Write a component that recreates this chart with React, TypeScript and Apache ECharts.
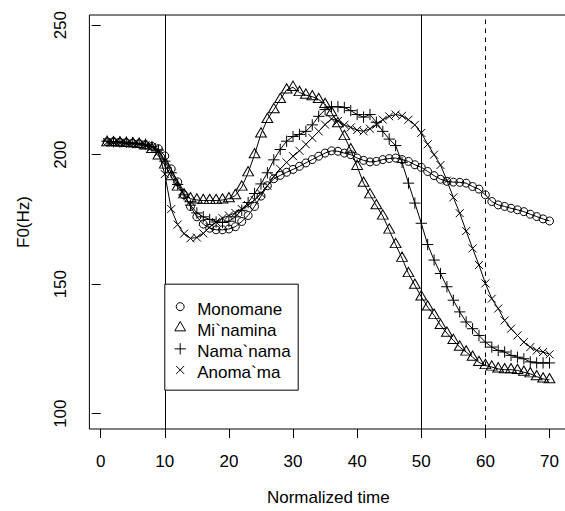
import React, { useEffect, useRef } from 'react';
import * as echarts from 'echarts';

const times = [1, 2, 3, 4, 5, 6, 7, 8, 9, 10, 11, 12, 13, 14, 15, 16, 17, 18, 19, 20, 21, 22, 23, 24, 25, 26, 27, 28, 29, 30, 31, 32, 33, 34, 35, 36, 37, 38, 39, 40, 41, 42, 43, 44, 45, 46, 47, 48, 49, 50, 51, 52, 53, 54, 55, 56, 57, 58, 59, 60, 61, 62, 63, 64, 65, 66, 67, 68, 69, 70];

const seriesNames = ['Monomane', 'Mi`namina', 'Nama`nama', 'Anoma`ma'];

const monomane = [205.0, 205.0, 204.8, 204.6, 204.4, 204.2, 203.8, 203.2, 202.3, 199.5,
  194.5, 189.5, 184.5, 180.0, 176.0, 173.2, 171.6, 171.0, 171.0, 171.3,
  172.2, 174.2, 176.5, 180.0, 184.0, 188.0, 190.7, 192.0, 193.2, 194.3,
  195.5, 196.8, 198.1, 199.4, 200.6, 201.5, 201.3, 200.6, 200.0, 198.7,
  197.8, 197.2, 197.4, 198.1, 198.5, 198.7, 198.1, 197.4, 196.1, 195.1,
  193.5, 191.9, 190.5, 189.7, 189.4, 189.3, 189.0, 187.7, 186.7, 184.5,
  181.9, 180.6, 180.0, 179.3, 178.7, 178.0, 177.0, 176.1, 175.2, 174.4];

const minamina = [204.6, 204.6, 204.5, 204.3, 204.2, 204.0, 203.4, 202.0, 199.5, 196.0,
  191.5, 187.5, 184.5, 183.0, 182.5, 182.3, 182.3, 182.3, 182.5, 183.0,
  184.2, 187.5, 193.0, 200.0, 208.0, 213.6, 217.4, 221.3, 225.0, 226.0,
  224.0, 223.0, 222.4, 221.3, 219.4, 216.2, 212.0, 207.0, 201.9, 195.5,
  189.0, 184.5, 180.3, 176.3, 170.9, 165.3, 160.0, 154.1, 149.6, 145.1,
  141.2, 138.0, 134.1, 131.1, 128.3, 125.7, 123.8, 121.8, 119.8, 118.6,
  118.0, 117.3, 117.0, 117.0, 116.7, 116.0, 115.4, 114.3, 113.4, 113.1];

const namanama = [205.2, 205.0, 204.9, 204.8, 204.6, 204.3, 204.0, 203.2, 201.8, 197.5,
  193.0, 188.5, 184.5, 180.5, 177.5, 176.0, 175.0, 174.0, 173.8, 174.3,
  176.0, 178.5, 181.5, 185.0, 188.7, 193.0, 198.0, 202.0, 205.2, 207.0,
  207.8, 209.0, 211.5, 214.8, 217.4, 218.5, 218.5, 218.2, 217.0, 215.5,
  214.5, 215.5, 212.5, 209.0, 206.0, 203.5, 197.0, 189.0, 181.3, 173.5,
  165.3, 159.3, 154.1, 149.0, 143.8, 139.3, 135.4, 132.8, 130.2, 127.6,
  125.7, 124.4, 123.8, 122.5, 121.8, 121.2, 120.0, 119.6, 119.6, 119.6];

const anomama = [204.8, 204.7, 204.6, 204.4, 204.2, 204.0, 203.6, 203.0, 201.0, 192.5,
  179.0, 173.0, 169.5, 167.7, 168.0, 169.6, 172.0, 174.0, 175.5, 176.5,
  177.5, 179.0, 180.5, 182.5, 185.0, 188.0, 191.6, 194.5, 197.0, 199.4,
  201.5, 204.0, 206.5, 209.0, 211.6, 213.8, 213.0, 211.5, 210.5, 209.5,
  209.0, 210.0, 211.6, 213.5, 214.8, 215.5, 215.0, 213.5, 211.5, 208.4,
  204.0, 200.0, 196.0, 190.0, 183.5, 177.4, 170.5, 163.8, 157.4, 150.3,
  144.4, 140.6, 136.0, 132.8, 130.2, 127.6, 125.7, 124.4, 123.8, 122.9];

const xTicks = [0, 10, 20, 30, 40, 50, 60, 70];
const yTicks = [100, 150, 200, 250];
const solidLines = [10, 50];
const dashedLines = [60];
const legendAnchor = [10, 150];

const FONT = 'Liberation Sans, Arial, Helvetica, sans-serif';

export default function App() {
  const ref = useRef<HTMLDivElement>(null);
  useEffect(() => {
    document.body.style.margin = '0';
    const chart = echarts.init(ref.current as HTMLDivElement, null, { renderer: 'svg' });
    const allValues = [monomane, minamina, namanama, anomama];
    const symbols: any[] = [
      { symbol: 'circle', symbolSize: 8, symbolOffset: [0, 0] },
      { symbol: 'triangle', symbolSize: [10.8, 9.3], symbolOffset: [0, -1.55] },
      { symbol: 'path://M0,5L10,5M5,0L5,10', symbolSize: 11.3, symbolOffset: [0, 0] },
      { symbol: 'path://M0,0L10,10M10,0L0,10', symbolSize: 8, symbolOffset: [0, 0] },
    ];
    const series: any[] = allValues.map((vals, i) => ({
      name: seriesNames[i],
      type: 'line',
      data: times.map((t, j) => [t, vals[j]]),
      symbol: symbols[i].symbol,
      symbolSize: symbols[i].symbolSize,
      symbolOffset: symbols[i].symbolOffset,
      showSymbol: true,
      showAllSymbol: true,
      silent: true,
      lineStyle: { color: '#000', width: 1 },
      itemStyle: { color: 'rgba(0,0,0,0)', borderColor: '#000', borderWidth: 1 },
      emphasis: { disabled: true },
      z: 2,
    }));
    series[0].markLine = {
      silent: true,
      symbol: 'none',
      label: { show: false },
      animation: false,
      lineStyle: { color: '#000', width: 1, type: 'solid' },
      data: [
        ...solidLines.map((v) => ({ xAxis: v })),
        ...dashedLines.map((v) => ({ xAxis: v, lineStyle: { color: '#000', width: 1, type: [4.5, 4.5] } })),
      ],
    };

    chart.setOption({
      animation: false,
      textStyle: { fontFamily: FONT, color: '#000' },
      grid: {
        left: 89.4, top: 15, width: 477.8, height: 414,
        show: true, borderColor: '#000', borderWidth: 1, backgroundColor: 'transparent',
        containLabel: false, outerBoundsMode: 'none',
      },
      xAxis: {
        type: 'value', min: -1.76, max: 72.76,
        splitLine: { show: false },
        axisLine: { show: false },
        axisTick: { show: true, length: 9, customValues: xTicks, lineStyle: { color: '#000', width: 1 } },
        axisLabel: { customValues: xTicks, fontSize: 17, color: '#000', fontFamily: FONT, margin: 24 },
        name: 'Normalized time', nameLocation: 'middle', nameGap: 60,
        nameTextStyle: { fontSize: 17, color: '#000', fontFamily: FONT },
      },
      yAxis: {
        type: 'value', min: 94.08, max: 253.92,
        splitLine: { show: false },
        axisLine: { show: false },
        axisTick: { show: true, length: 9, customValues: yTicks, lineStyle: { color: '#000', width: 1 } },
        axisLabel: { customValues: yTicks, fontSize: 17, color: '#000', fontFamily: FONT, margin: 20.5, rotate: 90 },
        name: 'F0(Hz)', nameLocation: 'middle', nameGap: 57,
        nameTextStyle: { fontSize: 17, color: '#000', fontFamily: FONT },
      },
      series,
    });

    const p = chart.convertToPixel({ gridIndex: 0 } as any, legendAnchor) as number[];
    const ax = p[0];
    const ay = p[1];
    const boxW = 133.4;
    const boxH = 106;
    const symX = ax + 15.4;
    const textX = ax + 32.4;
    const row0 = ay + 25;
    const rowGap = 21.1;
    const symDy = -2.5;
    const stroke = { fill: 'none', stroke: '#000', lineWidth: 1 };
    const elements: any[] = [
      { type: 'rect', z: 100, shape: { x: ax, y: ay, width: boxW, height: boxH }, style: { fill: '#fff', stroke: '#000', lineWidth: 1 } },
    ];
    seriesNames.forEach((nm, i) => {
      const ty = row0 + i * rowGap;
      const sy = ty + symDy;
      elements.push({
        type: 'text', z: 101, x: textX, y: ty,
        style: { text: nm, fill: '#000', fontSize: 17, fontFamily: FONT, align: 'left', verticalAlign: 'middle' },
      });
      if (i === 0) {
        elements.push({ type: 'circle', z: 101, shape: { cx: symX, cy: sy, r: 4 }, style: stroke });
      } else if (i === 1) {
        elements.push({ type: 'polygon', z: 101, shape: { points: [[symX, sy - 6.22], [symX + 5.39, sy + 3.11], [symX - 5.39, sy + 3.11]] }, style: stroke });
      } else if (i === 2) {
        elements.push({ type: 'line', z: 101, shape: { x1: symX - 5.66, y1: sy, x2: symX + 5.66, y2: sy }, style: stroke });
        elements.push({ type: 'line', z: 101, shape: { x1: symX, y1: sy - 5.66, x2: symX, y2: sy + 5.66 }, style: stroke });
      } else {
        elements.push({ type: 'line', z: 101, shape: { x1: symX - 4, y1: sy - 4, x2: symX + 4, y2: sy + 4 }, style: stroke });
        elements.push({ type: 'line', z: 101, shape: { x1: symX + 4, y1: sy - 4, x2: symX - 4, y2: sy + 4 }, style: stroke });
      }
    });
    chart.setOption({ graphic: { elements } });

    return () => chart.dispose();
  }, []);
  return <div ref={ref} style={{ width: 565, height: 511 }} />;
}
